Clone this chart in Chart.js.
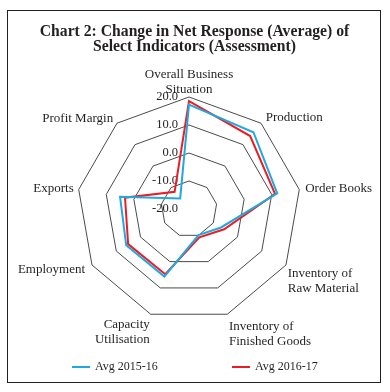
<!DOCTYPE html>
<html>
<head>
<meta charset="utf-8">
<script src="https://cdn.jsdelivr.net/npm/chart.js@4"></script>
<style>
  html, body { margin: 0; padding: 0; background: #fff; }
  #wrap { position: relative; width: 390px; height: 392px; }
  #frame { position: absolute; left: 7px; top: 10px; width: 372px; height: 371px; border: 1.5px solid #231f20; pointer-events: none; }
  canvas { position: absolute; left: 0; top: 0; }
  #title { position: absolute; left: 0; top: 22.5px; width: 389px; text-align: center;
           font: bold 15.7px/15px "Liberation Serif", serif; color: #231f20; }
  .legend { position: absolute; top: 359px; font: 12px "Liberation Serif", serif; color: #231f20; }
  .legend span { display: inline-block; width: 18px; height: 2px; vertical-align: middle; margin-right: 5px; }
</style>
</head>
<body>
<div id="wrap">
  <canvas id="radarChart" width="390" height="392"></canvas>
  <div id="frame"></div>
  <div id="title">Chart 2: Change in Net Response (Average) of<br>Select Indicators (Assessment)</div>
  <div class="legend" style="left:72px"><span style="background:#1ea9e1"></span>Avg 2015-16</div>
  <div class="legend" style="left:232px"><span style="background:#ed1c24"></span>Avg 2016-17</div>
</div>
<script>
const indicators = [
    ['Overall Business', 'Situation'],
    'Production',
    'Order Books',
    ['Inventory of', 'Raw Material'],
    ['Inventory of', 'Finished Goods'],
    ['Capacity', 'Utilisation'],
    'Employment',
    'Exports',
    'Profit Margin'
];
const avg201516 = [17.3, 15.8, 12.0, -6.8, -10.1, 5.7, 5.9, 5.0, -15.1];
const avg201617 = [18.5, 14.0, 11.2, -5.5, -9.2, 4.8, 5.1, 3.2, -12.0];
const tickValues = [-20, -10, 0, 10, 20];

const labelPadding = [0, 7.5, 6, 2, 5, 2.5, 8, 5, 6];
const serif = '"Liberation Serif", "Times New Roman", serif';

// tick labels sit left of the vertical axis, drawn under the lines
const tickLabelPlugin = {
    id: 'tickLabels',
    beforeDatasetsDraw(chart) {
        const scale = chart.scales.r;
        const ctx = chart.ctx;
        ctx.save();
        ctx.font = '12.5px ' + serif;
        ctx.fillStyle = '#231f20';
        ctx.textAlign = 'right';
        ctx.textBaseline = 'middle';
        tickValues.forEach(v => {
            const d = scale.getDistanceFromCenterForValue(v);
            ctx.fillText(v.toFixed(1), scale.xCenter - 11, scale.yCenter - d);
        });
        ctx.restore();
    }
};

const ctx = document.getElementById('radarChart').getContext('2d');
new Chart(ctx, {
    type: 'radar',
    data: {
        labels: indicators,
        datasets: [{
            label: 'Avg 2015-16',
            data: avg201516,
            borderColor: '#1ea9e1',
            backgroundColor: 'transparent',
            borderWidth: 2,
            pointRadius: 0,
            fill: false
        }, {
            label: 'Avg 2016-17',
            data: avg201617,
            borderColor: '#ed1c24',
            backgroundColor: 'transparent',
            borderWidth: 2,
            pointRadius: 0,
            fill: false
        }]
    },
    options: {
        responsive: false,
        animation: false,
        layout: {
            padding: { top: 66, left: 13, right: 11, bottom: 41 }
        },
        plugins: {
            legend: { display: false },
            tooltip: { enabled: false }
        },
        scales: {
            r: {
                min: tickValues[0],
                max: tickValues[tickValues.length - 1],
                ticks: { display: false, stepSize: 10 },
                angleLines: { display: false },
                grid: { color: '#4a4a4a', lineWidth: 1 },
                pointLabels: {
                    color: '#231f20',
                    // single-line side labels get a tiny line height so they centre on their spoke
                    font: (c) => ({
                        family: serif,
                        size: 13,
                        lineHeight: Array.isArray(indicators[c.index]) ? 1.154 : 0.05
                    }),
                    padding: (c) => labelPadding[c.index]
                }
            }
        }
    },
    plugins: [tickLabelPlugin]
});
</script>
</body>
</html>
